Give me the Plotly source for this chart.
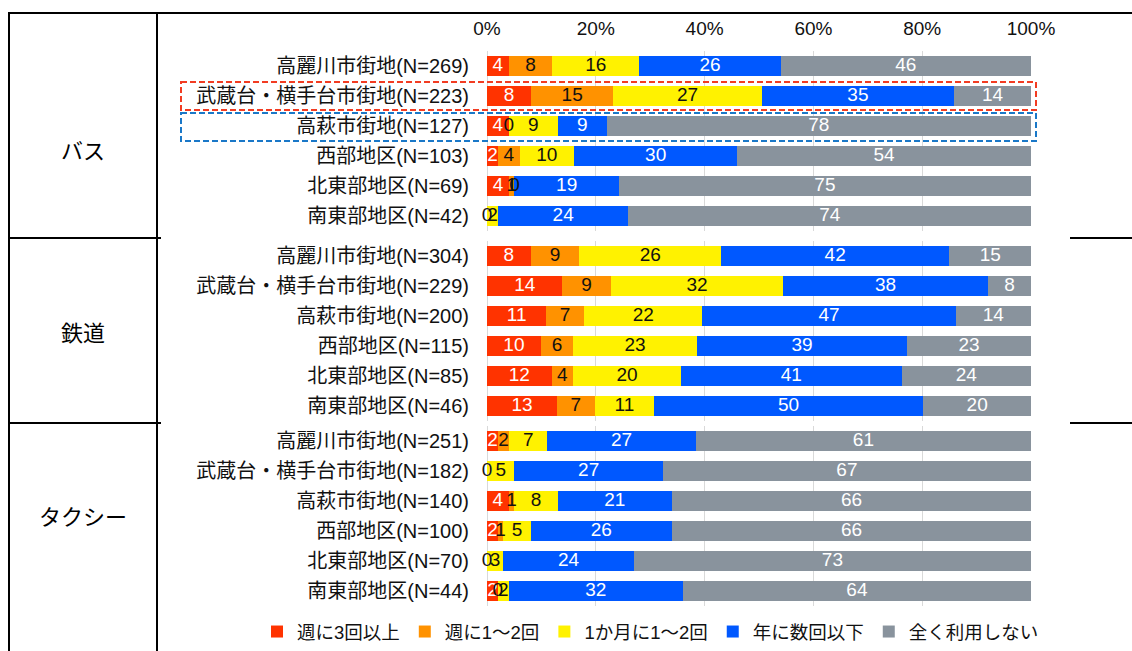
import plotly.graph_objects as go
from plotly.subplots import make_subplots

# ---------------- data ----------------
group_names = ["バス", "鉄道", "タクシー"]

bus_categories = ["高麗川市街地(N=269)", "武蔵台・横手台市街地(N=223)", "高萩市街地(N=127)",
                  "西部地区(N=103)", "北東部地区(N=69)", "南東部地区(N=42)"]
rail_categories = ["高麗川市街地(N=304)", "武蔵台・横手台市街地(N=229)", "高萩市街地(N=200)",
                   "西部地区(N=115)", "北東部地区(N=85)", "南東部地区(N=46)"]
taxi_categories = ["高麗川市街地(N=251)", "武蔵台・横手台市街地(N=182)", "高萩市街地(N=140)",
                   "西部地区(N=100)", "北東部地区(N=70)", "南東部地区(N=44)"]

series_names = ["週に3回以上", "週に1～2回", "1か月に1～2回", "年に数回以下", "全く利用しない"]

bus_weekly3 = [4, 8, 4, 2, 4, 0]
bus_weekly12 = [8, 15, 0, 4, 1, 0]
bus_monthly = [16, 27, 9, 10, 0, 2]
bus_yearly = [26, 35, 9, 30, 19, 24]
bus_never = [46, 14, 78, 54, 75, 74]

rail_weekly3 = [8, 14, 11, 10, 12, 13]
rail_weekly12 = [9, 9, 7, 6, 4, 7]
rail_monthly = [26, 32, 22, 23, 20, 11]
rail_yearly = [42, 38, 47, 39, 41, 50]
rail_never = [15, 8, 14, 23, 24, 20]

taxi_weekly3 = [2, 0, 4, 2, 0, 2]
taxi_weekly12 = [2, 0, 1, 1, 0, 0]
taxi_monthly = [7, 5, 8, 5, 3, 2]
taxi_yearly = [27, 27, 21, 26, 24, 32]
taxi_never = [61, 67, 66, 66, 73, 64]

x_tick_values = [0, 20, 40, 60, 80, 100]
x_tick_labels = ["0%", "20%", "40%", "60%", "80%", "100%"]

# ---------------- styling ----------------
W, H = 1132, 651
bar_colors = ["#FF3300", "#FF9200", "#FFF200", "#0058FF", "#89939D"]
label_colors = ["#FFFFFF", "#111111", "#111111", "#FFFFFF", "#FFFFFF"]
FONT = "Arial, 'Liberation Sans', 'Noto Sans CJK JP', sans-serif"


def px_x(p):
    return p / W


def px_y(p):
    return 1 - p / H


groups = [
    (bus_categories, [bus_weekly3, bus_weekly12, bus_monthly, bus_yearly, bus_never]),
    (rail_categories, [rail_weekly3, rail_weekly12, rail_monthly, rail_yearly, rail_never]),
    (taxi_categories, [taxi_weekly3, taxi_weekly12, taxi_monthly, taxi_yearly, taxi_never]),
]
# pixel extents (top, bottom) of each panel
panel_px = [(51, 231), (241, 421), (426, 606)]
group_label_y = [152, 333, 517]

fig = make_subplots(rows=3, cols=1)

for gi, (cats, data) in enumerate(groups):
    row = gi + 1
    totals = [sum(col) for col in zip(*data)]
    cum = [0] * len(cats)
    for si, vals in enumerate(data):
        fig.add_trace(go.Bar(
            y=cats, x=vals, orientation="h", name=series_names[si],
            marker=dict(color=bar_colors[si], line=dict(width=0)),
            width=0.66, showlegend=(gi == 0), legendgroup=series_names[si],
            hoverinfo="skip",
        ), row=row, col=1)
        # label centres in the 100%-normalised stack
        centers = [(c + v / 2) / t * 100 for c, v, t in zip(cum, vals, totals)]
        fig.add_trace(go.Scatter(
            y=cats, x=centers, mode="text", text=[str(v) for v in vals],
            textposition="middle center",
            textfont=dict(color=label_colors[si], size=19, family=FONT),
            showlegend=False, cliponaxis=False, hoverinfo="skip",
        ), row=row, col=1)
        cum = [c + v for c, v in zip(cum, vals)]

    xa = "xaxis" if row == 1 else f"xaxis{row}"
    ya = "yaxis" if row == 1 else f"yaxis{row}"
    top, bot = panel_px[gi]
    fig.layout[xa].update(
        domain=[px_x(487), px_x(1031)], range=[0, 100],
        tickvals=x_tick_values, ticktext=x_tick_labels,
        showgrid=True, gridcolor="#D9D9D9", gridwidth=1,
        zeroline=True, zerolinecolor="#D9D9D9", zerolinewidth=1,
        showline=False, ticks="",
        showticklabels=(row == 1), side="top",
        tickfont=dict(size=19, color="#111111", family=FONT),
        ticklabelstandoff=11, automargin=False, fixedrange=True,
    )
    fig.layout[ya].update(
        domain=[px_y(bot), px_y(top)], autorange="reversed",
        showgrid=False, zeroline=False, showline=False, ticks="",
        tickfont=dict(size=20, color="#111111", family=FONT),
        ticklabelstandoff=17, automargin=False, fixedrange=True,
    )

shapes = []
line_black = dict(color="#000000", width=2)
# table frame
shapes.append(dict(type="line", xref="paper", yref="paper", x0=px_x(8), x1=px_x(1132),
                   y0=px_y(13), y1=px_y(13), line=line_black))
shapes.append(dict(type="line", xref="paper", yref="paper", x0=px_x(9), x1=px_x(9),
                   y0=px_y(13), y1=px_y(651), line=line_black))
shapes.append(dict(type="line", xref="paper", yref="paper", x0=px_x(157), x1=px_x(157),
                   y0=px_y(13), y1=px_y(651), line=line_black))
for yy in (238, 423):
    shapes.append(dict(type="line", xref="paper", yref="paper", x0=px_x(8), x1=px_x(161),
                       y0=px_y(yy), y1=px_y(yy), line=line_black))
    shapes.append(dict(type="line", xref="paper", yref="paper", x0=px_x(1070), x1=px_x(1132),
                       y0=px_y(yy), y1=px_y(yy), line=line_black))
# highlight boxes
shapes.append(dict(type="rect", xref="paper", yref="paper", x0=px_x(181), x1=px_x(1036),
                   y0=px_y(82), y1=px_y(110),
                   line=dict(color="#F23C22", width=2, dash="6px,3px")))
shapes.append(dict(type="rect", xref="paper", yref="paper", x0=px_x(181), x1=px_x(1036),
                   y0=px_y(113), y1=px_y(141),
                   line=dict(color="#1A78C8", width=2, dash="6px,3px")))

annotations = []
for name, yy in zip(group_names, group_label_y):
    annotations.append(dict(text=name, x=px_x(83), y=px_y(yy), xref="paper", yref="paper",
                            showarrow=False, xanchor="center", yanchor="middle",
                            font=dict(size=22, color="#000000", family=FONT)))

fig.update_layout(
    width=W, height=H,
    margin=dict(l=0, r=0, t=0, b=0),
    barmode="stack", barnorm="percent",
    paper_bgcolor="#FFFFFF", plot_bgcolor="#FFFFFF",
    shapes=shapes, annotations=annotations,
    showlegend=True,
    legend=dict(orientation="h", x=px_x(257), y=0, xanchor="left", yanchor="bottom",
                font=dict(size=18.5, color="#111111", family=FONT),
                traceorder="normal", itemwidth=30, bgcolor="rgba(0,0,0,0)"),
    font=dict(family=FONT),
)

fig.write_html("out.html", config={"displayModeBar": False},
               post_script="document.body.style.margin='0px'; document.body.style.overflow='hidden';")
